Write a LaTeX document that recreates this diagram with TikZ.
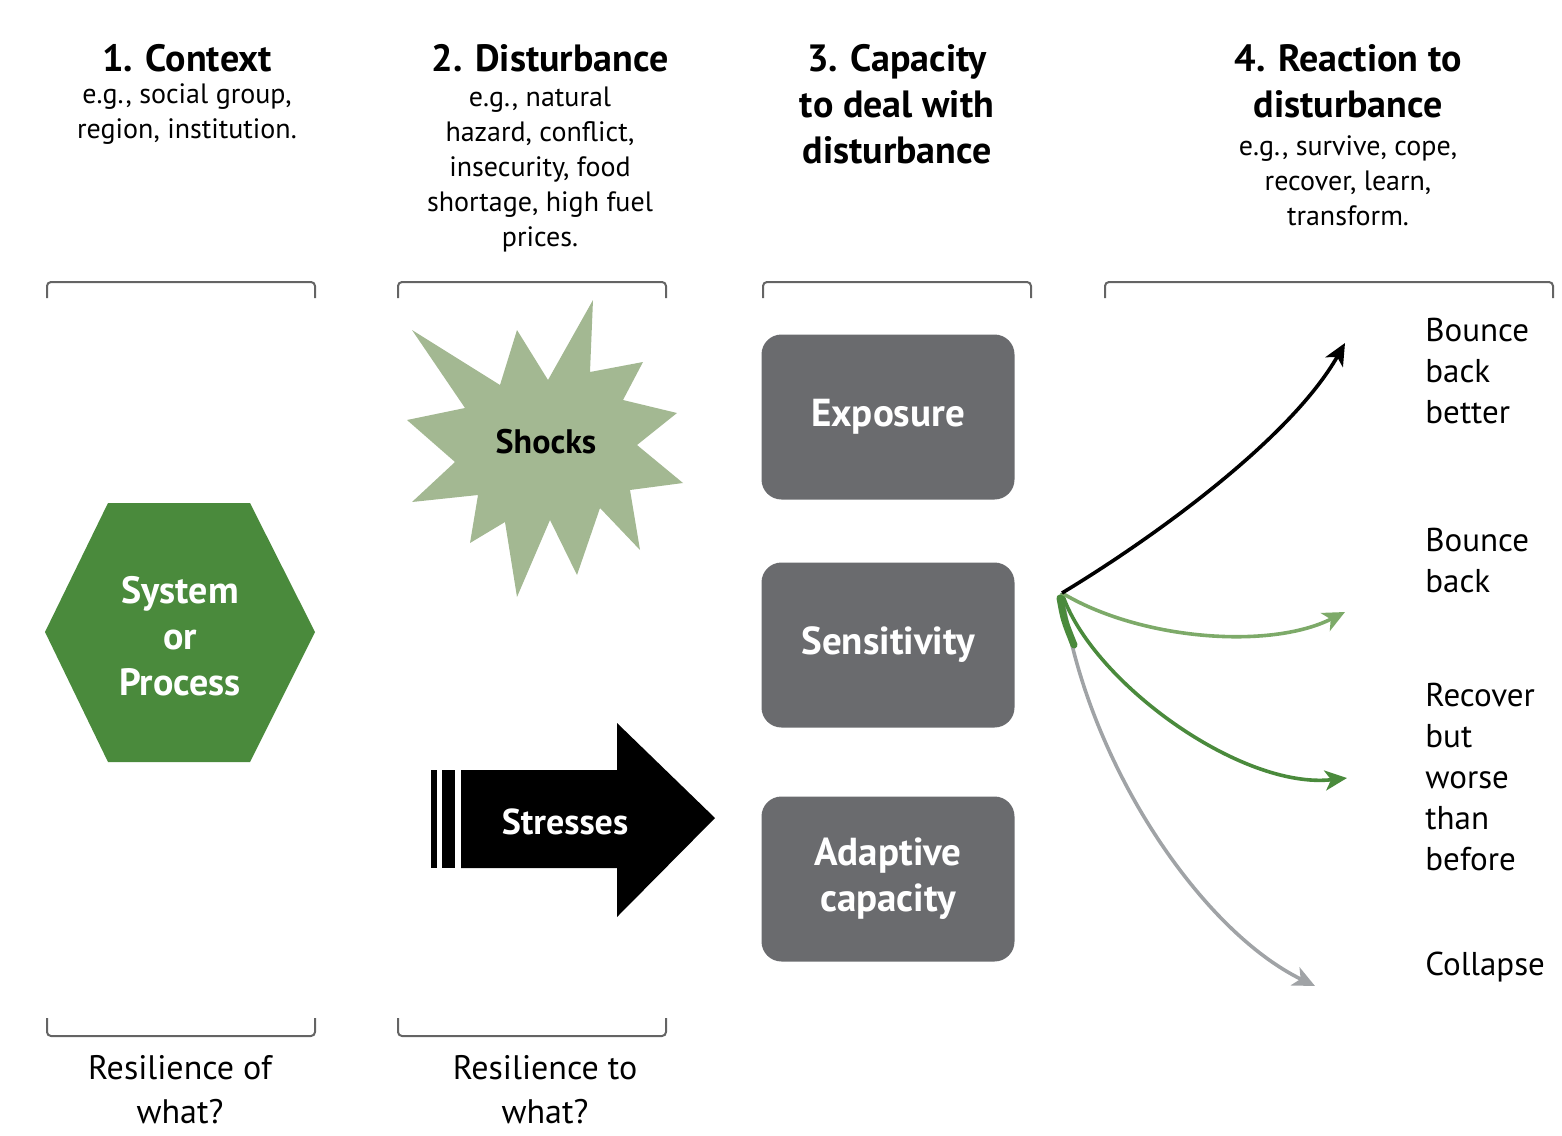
\documentclass[tikz,border=0pt]{standalone}
\usepackage{fontspec}
\setmainfont{PT Sans}
\usetikzlibrary{arrows.meta}

\definecolor{hexgreen}{RGB}{74,138,60}
\definecolor{shockgreen}{RGB}{163,184,146}
\definecolor{boxgrey}{RGB}{106,107,110}
\definecolor{lightgreen}{RGB}{125,170,105}
\definecolor{arrowgrey}{RGB}{160,163,166}
\definecolor{bracketgrey}{RGB}{100,100,100}

\begin{document}
\begin{tikzpicture}[x=0.5pt,y=-0.5pt,
  heading/.style={align=center,font=\fontsize{19}{23}\selectfont\bfseries},
  example/.style={align=center,font=\fontsize{14}{17.5}\selectfont},
  capbox/.style={fill=boxgrey,rounded corners=10pt,minimum width=126.5pt,minimum height=82.5pt,
    text=white,align=center,font=\fontsize{19.5}{23}\selectfont\bfseries},
  bracket/.style={draw=bracketgrey,line width=1pt,rounded corners=2pt},
  outcome/.style={anchor=west,inner sep=0pt,align=left,font=\fontsize{16.5}{20.5}\selectfont},
  question/.style={align=center,font=\fontsize{17}{22}\selectfont},
  reaction/.style={line width=1.8pt,-{Stealth[length=11pt,width=10pt,inset=3pt]}}]
\useasboundingbox (0,0) rectangle (1562,1135);

\node[heading] (context) at (187,58) {1. Context};
\node[example] (context-eg) at (187,114) {e.g., social group,\\region, institution.};
\node[heading] (disturbance) at (550,58) {2. Disturbance};
\node[example] (disturbance-eg) at (540,169) {e.g., natural\\hazard, conflict,\\insecurity, food\\shortage, high fuel\\prices.};
\node[heading] (capacity) at (897,104) {3. Capacity\\to deal with\\disturbance};
\node[heading] (reaction) at (1348,81) {4. Reaction to\\disturbance};
\node[example] (reaction-eg) at (1348,181) {e.g., survive, cope,\\recover, learn,\\transform.};

\draw[bracket] (47,298) -- (47,282) -- (315,282) -- (315,298);
\draw[bracket] (398,298) -- (398,282) -- (666,282) -- (666,298);
\draw[bracket] (763,298) -- (763,282) -- (1031,282) -- (1031,298);
\draw[bracket] (1105,298) -- (1105,282) -- (1553,282) -- (1553,298);
\draw[bracket] (47,1018) -- (47,1036) -- (315,1036) -- (315,1018);
\draw[bracket] (398,1018) -- (398,1036) -- (666,1036) -- (666,1018);

\fill[hexgreen] (45,632) -- (108,503) -- (250,503) -- (315,632) -- (250,762) -- (108,762) -- cycle;
\node[text=white,align=center,font=\fontsize{19}{23}\selectfont\bfseries] (system) at (180,636) {System\\or\\Process};

\fill[shockgreen] (593,300) -- (590,372) -- (643,362) -- (623,400) -- (677,413) -- (637,445)
  -- (683,483) -- (630,490) -- (640,550) -- (600,508) -- (577,575) -- (550,520) -- (517,597)
  -- (505,522) -- (470,543) -- (478,495) -- (412,502) -- (455,462) -- (407,420) -- (465,408)
  -- (412,330) -- (500,385) -- (517,330) -- (548,380) -- cycle;
\node[font=\fontsize{17}{20}\selectfont\bfseries] (shocks) at (546,442) {Shocks};

\fill (431,770) rectangle (437,868);
\fill (442,770) rectangle (455,868);
\fill (461,770) -- (617,770) -- (617,723) -- (715,818) -- (617,917) -- (617,868) -- (461,868) -- cycle;
\node[text=white,font=\fontsize{18}{22}\selectfont\bfseries] (stresses) at (565,822) {Stresses};

\node[capbox] (exposure) at (888,417) {Exposure};
\node[capbox] (sensitivity) at (888,645) {Sensitivity};
\node[capbox] (adaptive) at (888,879) {Adaptive\\capacity};

\node[outcome] (better) at (1425,371) {Bounce\\back\\better};
\node[outcome] (back) at (1425,561) {Bounce\\back};
\node[outcome] (worse) at (1425,777) {Recover\\but\\worse\\than\\before};
\node[outcome] (collapse) at (1425,967) {Collapse};

\coordinate (fan) at (1062,593);
\coordinate (better-tip) at (1345,343);
\coordinate (back-tip) at (1345,612);
\coordinate (worse-tip) at (1347,778);
\coordinate (collapse-tip) at (1315,986);

\draw[reaction,arrowgrey] (fan) .. controls (1085,760) and (1200,930) .. (collapse-tip);
\draw[reaction,hexgreen] (fan) .. controls (1090,680) and (1240,790) .. (worse-tip);
\draw[hexgreen,line width=3.5pt,line cap=round] (1060,598) .. controls (1064,620) .. (1074,645);
\draw[reaction,lightgreen] (fan) .. controls (1140,640) and (1270,650) .. (back-tip);
\draw[reaction,black] (fan) .. controls (1150,540) and (1290,440) .. (better-tip);

\node[question] (what-of) at (180,1090) {Resilience of\\what?};
\node[question] (what-to) at (545,1090) {Resilience to\\what?};
\end{tikzpicture}
\end{document}
